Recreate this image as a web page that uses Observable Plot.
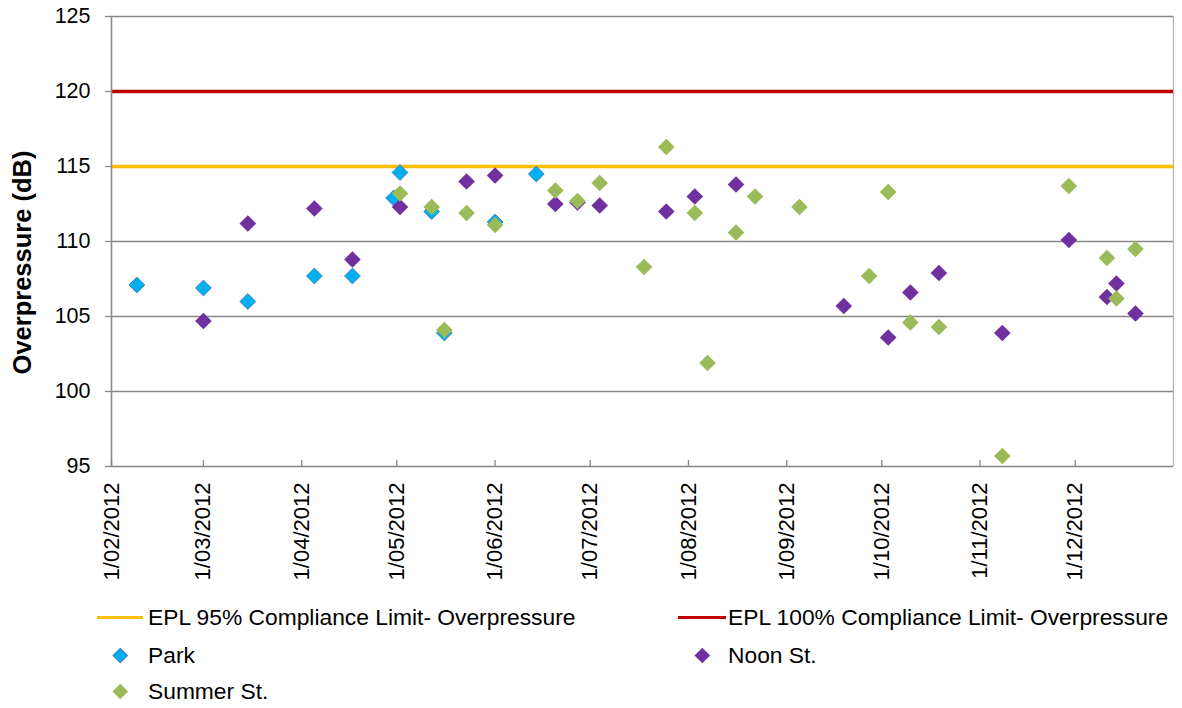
<!DOCTYPE html>
<html>
<head>
<meta charset="utf-8">
<script src="https://cdn.jsdelivr.net/npm/d3@7"></script>
<script src="https://cdn.jsdelivr.net/npm/@observablehq/plot@0.6"></script>
<style>
  body { margin: 0; background: #fff; font-family: "Liberation Sans", Arial, sans-serif; }
  #wrap { position: relative; width: 1182px; height: 708px; overflow: hidden; }
  .lg { position: absolute; font-size: 22.8px; line-height: 22.8px; color: #000; white-space: nowrap; }
  .swl { position: absolute; height: 3.4px; }
  .swd { position: absolute; width: 10.6px; height: 10.6px; transform: rotate(45deg); box-sizing: border-box; }
</style>
</head>
<body>
<div id="wrap"></div>
<script>
// ---- Data ----
const xStart = "2012-02-01";
const xEnd = "2013-01-01";
const xTickDates = ["2012-02-01","2012-03-01","2012-04-01","2012-05-01","2012-06-01","2012-07-01",
                    "2012-08-01","2012-09-01","2012-10-01","2012-11-01","2012-12-01"];
const xTickLabels = ["1/02/2012","1/03/2012","1/04/2012","1/05/2012","1/06/2012","1/07/2012",
                     "1/08/2012","1/09/2012","1/10/2012","1/11/2012","1/12/2012"];
const yTicks = [95, 100, 105, 110, 115, 120, 125];
const yTitle = "Overpressure (dB)";

const limit95 = [115];
const limit100 = [120];
const limit95Name = "EPL 95% Compliance Limit- Overpressure";
const limit100Name = "EPL 100% Compliance Limit- Overpressure";

const parkDates = ["2012-02-09","2012-03-01","2012-03-15","2012-04-05","2012-04-17","2012-04-30",
                   "2012-05-02","2012-05-12","2012-05-16","2012-06-01","2012-06-14"];
const parkValues = [107.1, 106.9, 106.0, 107.7, 107.7, 112.9, 114.6, 112.0, 103.9, 111.3, 114.5];

const noonDates = ["2012-03-01","2012-03-15","2012-04-05","2012-04-17","2012-05-02","2012-05-23",
                   "2012-06-01","2012-06-20","2012-06-27","2012-07-04","2012-07-25","2012-08-03",
                   "2012-08-16","2012-09-19","2012-10-03","2012-10-10","2012-10-19","2012-11-08",
                   "2012-11-29","2012-12-11","2012-12-14","2012-12-20"];
const noonValues = [104.7, 111.2, 112.2, 108.8, 112.3, 114.0, 114.4, 112.5, 112.6, 112.4, 112.0, 113.0,
                    113.8, 105.7, 103.6, 106.6, 107.9, 103.9, 110.1, 106.3, 107.2, 105.2];

const summerDates = ["2012-05-02","2012-05-12","2012-05-16","2012-05-23","2012-06-01","2012-06-20",
                     "2012-06-27","2012-07-04","2012-07-18","2012-07-25","2012-08-03","2012-08-07",
                     "2012-08-16","2012-08-22","2012-09-05","2012-09-27","2012-10-03","2012-10-10",
                     "2012-10-19","2012-11-08","2012-11-29","2012-12-11","2012-12-14","2012-12-20"];
const summerValues = [113.2, 112.3, 104.1, 111.9, 111.1, 113.4, 112.7, 113.9, 108.3, 116.3, 111.9, 101.9,
                      110.6, 113.0, 112.3, 107.7, 113.3, 104.6, 104.3, 95.7, 113.7, 108.9, 106.2, 109.5];

const seriesNames = ["Park", "Noon St.", "Summer St."];

// ---- Build ----
const parse = d3.utcParse("%Y-%m-%d");
const rows = (dates, values) => dates.map((d, i) => ({date: parse(d), value: values[i]}));
const park = rows(parkDates, parkValues);
const noon = rows(noonDates, noonValues);
const summer = rows(summerDates, summerValues);
const tickDates = xTickDates.map(parse);

const gridColor = "#878787";
const colors = {park: "#00B0F0", parkStroke: "#4A7EBB", noon: "#7030A0", summer: "#9BBB59",
                l95: "#FFC000", l100: "#C00000"};

const chart = Plot.plot({
  width: 1182,
  height: 600,
  marginLeft: 111,
  marginRight: 9,
  marginTop: 16,
  marginBottom: 134,
  style: {fontFamily: "'Liberation Sans', Arial, sans-serif", fontSize: "21.5px", color: "#000", background: "#fff", overflow: "visible"},
  x: {type: "utc", domain: [parse(xStart), parse(xEnd)]},
  y: {domain: [95, 125]},
  marks: [
    Plot.gridY(yTicks.filter(v => v > 95), {stroke: gridColor, strokeOpacity: 1, strokeWidth: 1.3}),
    Plot.ruleX([parse(xEnd)], {stroke: "#b4b4b4", strokeWidth: 1.3}),
    Plot.ruleY(limit95, {stroke: colors.l95, strokeWidth: 3.4}),
    Plot.ruleY(limit100, {stroke: colors.l100, strokeWidth: 3.4}),
    Plot.ruleX([parse(xStart)], {stroke: gridColor, strokeWidth: 1.6}),
    Plot.ruleY([95], {stroke: gridColor, strokeWidth: 1.6}),
    Plot.axisY({ticks: yTicks, tickSize: 6, tickPadding: 15, stroke: gridColor, strokeWidth: 1.3, label: null, tickFormat: d => String(d)}),
    Plot.text([yTitle], {frameAnchor: "left", textAnchor: "middle", lineAnchor: "middle", rotate: -90, dx: -89, dy: 21,
                         fontWeight: "bold", fontSize: 25.5, fill: "#000"}),
    Plot.axisX({ticks: tickDates, tickSize: -6, tickPadding: 22, tickRotate: -90, stroke: gridColor, strokeWidth: 1.3,
                fontSize: 22, tickFormat: (d, i) => xTickLabels[i], label: null}),
    Plot.dot(park, {x: "date", y: "value", symbol: "diamond2", r: 7.1, fill: colors.park, stroke: colors.parkStroke, strokeWidth: 1}),
    Plot.dot(noon, {x: "date", y: "value", symbol: "diamond2", r: 7.5, fill: colors.noon}),
    Plot.dot(summer, {x: "date", y: "value", symbol: "diamond2", r: 7.5, fill: colors.summer})
  ]
});

const wrap = document.getElementById("wrap");
chart.style.position = "absolute";
chart.style.left = "0px";
chart.style.top = "0px";
wrap.appendChild(chart);

// ---- Legend (HTML, below the SVG area) ----
function addLine(x1, x2, yc, color) {
  const d = document.createElement("div");
  d.className = "swl";
  d.style.left = x1 + "px"; d.style.width = (x2 - x1) + "px";
  d.style.top = (yc - 1.7) + "px"; d.style.background = color;
  wrap.appendChild(d);
}
function addDiamond(xc, yc, color, border) {
  const d = document.createElement("div");
  d.className = "swd";
  d.style.left = (xc - 5.3) + "px"; d.style.top = (yc - 5.3) + "px";
  d.style.background = color;
  if (border) d.style.border = "1px solid " + border;
  wrap.appendChild(d);
}
function addText(x, yc, txt) {
  const d = document.createElement("div");
  d.className = "lg";
  d.textContent = txt;
  d.style.left = x + "px"; d.style.top = (yc - 11.1) + "px";
  wrap.appendChild(d);
}
addLine(97, 143, 617.5, colors.l95);  addText(148, 617, limit95Name);
addLine(678, 726, 617.5, colors.l100); addText(728, 617, limit100Name);
addDiamond(120.5, 655, colors.park, colors.parkStroke); addText(148, 655, seriesNames[0]);
addDiamond(702.5, 655, colors.noon); addText(728, 655, seriesNames[1]);
addDiamond(120.5, 691, colors.summer); addText(148, 691, seriesNames[2]);
</script>
</body>
</html>
